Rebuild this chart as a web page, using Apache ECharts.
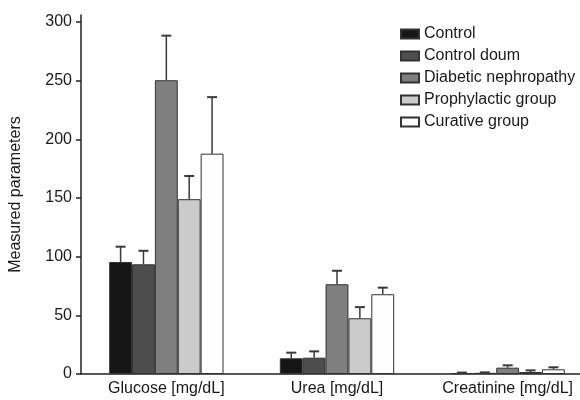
<!DOCTYPE html>
<html>
<head>
<meta charset="utf-8">
<script src="https://cdn.jsdelivr.net/npm/echarts@6/dist/echarts.min.js"></script>
<style>
  html, body { margin: 0; padding: 0; background: #fff; }
  #chart { width: 580px; height: 400px; }
</style>
</head>
<body>
<div id="chart"></div>
<script>
// Measured parameters per group (mean values and standard deviations)
const categories = ['Glucose [mg/dL]', 'Urea [mg/dL]', 'Creatinine [mg/dL]'];
const groupNames = ['Control', 'Control doum', 'Diabetic nephropathy', 'Prophylactic group', 'Curative group'];

const controlMean      = [95.5, 13.4, 0.8];
const controlDoumMean  = [93.5, 13.9, 1.0];
const diabeticMean     = [250.4, 76.5, 5.4];
const prophylacticMean = [149, 47.5, 1.7];
const curativeMean     = [187.8, 68, 4.0];

const controlSD      = [13, 4.8, 0.4];
const controlDoumSD  = [11.5, 5.4, 0.4];
const diabeticSD     = [38, 11.5, 2.0];
const prophylacticSD = [19.8, 9.5, 1.4];
const curativeSD     = [48.2, 5.6, 1.7];

const yTicks = [0, 50, 100, 150, 200, 250, 300];

const means = [controlMean, controlDoumMean, diabeticMean, prophylacticMean, curativeMean];
const sds = [controlSD, controlDoumSD, diabeticSD, prophylacticSD, curativeSD];
const fills = ['#161616', '#4d4d4d', '#7f7f7f', '#cbcbcb', '#fefefe'];
const FONT = '"Liberation Sans", Arial, sans-serif';
const FS = 16;
const CAT_GAP = 0.33;

const barSeries = groupNames.map((name, i) => ({
  name: name,
  type: 'bar',
  data: means[i],
  barGap: '0%',
  barCategoryGap: (CAT_GAP * 100) + '%',
  itemStyle: { color: fills[i], borderColor: '#333', borderWidth: 1 }
}));

// error bar data: [category, group, mean, sd]
const errData = [];
means.forEach((m, g) => m.forEach((v, c) => errData.push([c, g, v, sds[g][c]])));

const errorSeries = {
  type: 'custom',
  name: 'err',
  data: errData,
  encode: { x: 0, y: 2 },
  z: 5,
  renderItem: function (params, api) {
    const c = api.value(0), g = api.value(1), v = api.value(2), sd = api.value(3);
    const band = api.size([1, 0])[0];
    const barW = band * (1 - CAT_GAP) / groupNames.length;
    const x = api.coord([c, 0])[0] + (g - (groupNames.length - 1) / 2) * barW;
    const yBase = api.coord([c, v])[1];
    const yTop = api.coord([c, v + sd])[1];
    const capHalf = 5;
    return {
      type: 'group',
      children: [
        { type: 'line', shape: { x1: x, y1: yBase, x2: x, y2: yTop },
          style: { stroke: '#3a3a3a', lineWidth: 1.5 } },
        { type: 'line', shape: { x1: x - capHalf, y1: yTop, x2: x + capHalf, y2: yTop },
          style: { stroke: '#3a3a3a', lineWidth: 2 } }
      ]
    };
  }
};

const chart = echarts.init(document.getElementById('chart'), null, { renderer: 'canvas' });
chart.setOption({
  animation: false,
  backgroundColor: '#fff',
  textStyle: { fontFamily: FONT },
  legend: {
    data: groupNames,
    orient: 'vertical',
    icon: 'rect',
    left: 395,
    top: 21,
    itemWidth: 18,
    itemHeight: 9,
    itemGap: 6,
    itemTextGap: 12,
    textStyle: { fontFamily: FONT, fontSize: FS, color: '#1a1a1a' }
  },
  grid: { left: 81, top: 15, width: 512, height: 359, containLabel: false, outerBoundsMode: 'none' },
  xAxis: {
    type: 'category',
    data: categories,
    axisLine: { lineStyle: { color: '#222', width: 1.5 } },
    axisTick: { show: false },
    axisLabel: { fontFamily: FONT, fontSize: FS, color: '#1a1a1a', margin: 7, interval: 0 }
  },
  yAxis: {
    type: 'value',
    min: 0,
    max: 306,
    name: 'Measured parameters',
    nameLocation: 'middle',
    nameGap: 57,
    nameTextStyle: { fontFamily: FONT, fontSize: FS, color: '#1a1a1a' },
    axisLine: { show: true, lineStyle: { color: '#222', width: 1.5 } },
    axisTick: { show: true, length: 5, customValues: yTicks, lineStyle: { color: '#222', width: 1.5 } },
    axisLabel: { fontFamily: FONT, fontSize: FS, color: '#1a1a1a', margin: 9, customValues: yTicks },
    splitLine: { show: false }
  },
  series: barSeries.concat([errorSeries])
});
</script>
</body>
</html>
